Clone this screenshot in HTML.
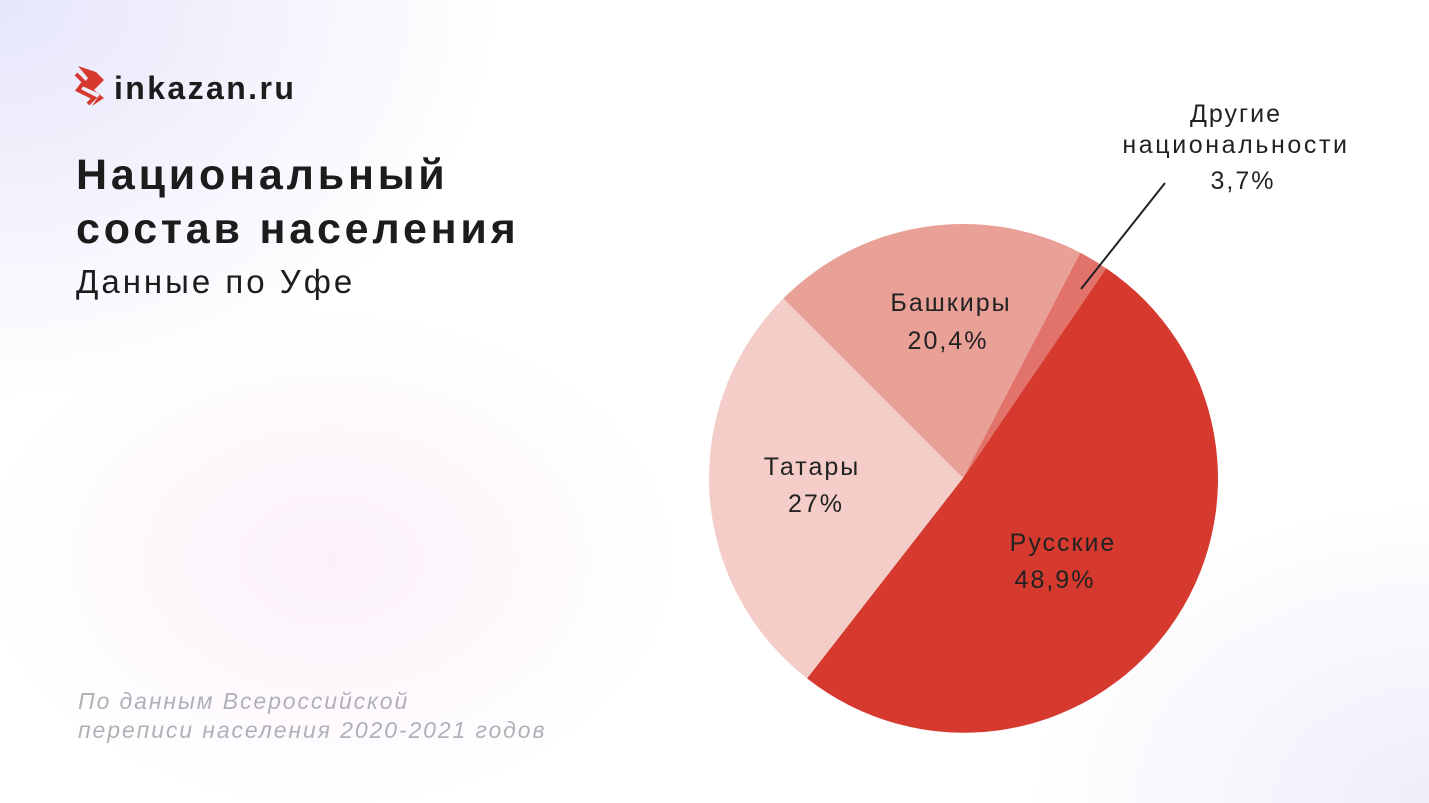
<!DOCTYPE html>
<html><head><meta charset="utf-8"><style>
body{margin:0;width:1429px;height:803px;overflow:hidden;font-family:"Liberation Sans","DejaVu Sans",sans-serif;
background:radial-gradient(ellipse 500px 400px at 0px 0px,#e6e6fb 0%,rgba(255,255,255,0) 100%),radial-gradient(ellipse 350px 250px at 330px 560px,#fcf1fa 0%,rgba(255,255,255,0) 100%),radial-gradient(ellipse 400px 300px at 1429px 803px,#eeeefb 0%,rgba(255,255,255,0) 100%),#fff;position:relative}
.t{position:absolute;color:#1c1c1c}
</style></head><body>
<svg style="position:absolute;left:74px;top:64px" width="34" height="44" viewBox="0 0 34 44">
<path d="M4 2 L14 14 L8 22 L26 30 L18 42 L30 34 L20 26 L30 16 L22 8 Z" fill="#d63a2f"/>
<path d="M2 10 L10 18 L4 26 L20 34 L14 40" stroke="#d63a2f" stroke-width="4" fill="none"/>
</svg>
<div class="t" style="left:114px;top:70px;font-size:32px;font-weight:bold;letter-spacing:2.4px">inkazan.ru</div>
<div class="t" style="left:76px;top:148px;font-size:43px;font-weight:bold;line-height:54px;letter-spacing:3.8px">Национальный<br>состав населения</div>
<div class="t" style="left:76px;top:263px;font-size:33px;letter-spacing:3px">Данные по Уфе</div>
<div class="t" style="left:78px;top:687px;font-size:23px;font-style:italic;color:#b0b0b8;line-height:29px;letter-spacing:1.9px">По данным Всероссийской<br>переписи населения 2020-2021 годов</div>
<svg style="position:absolute;left:0;top:0" width="1429" height="803">
<path d="M963 478 L1106.1 268.2 A254 254 0 1 1 807 678.4 Z" fill="#d63a2f"/>
<path d="M963 478 L807 678.4 A254 254 0 0 1 783.4 298.4 Z" fill="#f4cdc8"/>
<path d="M963 478 L783.4 298.4 A254 254 0 0 1 1080.3 252.7 Z" fill="#e9a097"/>
<path d="M963 478 L1080.3 252.7 A254 254 0 0 1 1106.1 268.2 Z" fill="#e2736a"/>
<line x1="1165" y1="183" x2="1081" y2="289" stroke="#222" stroke-width="2"/>
<g font-family="Liberation Sans, DejaVu Sans, sans-serif" font-size="25" fill="#222" text-anchor="middle" letter-spacing="2">
<text x="1236" y="122">Другие</text><text x="1236" y="153" letter-spacing="2.6">национальности</text><text x="1243" y="189">3,7%</text>
<text x="951" y="311">Башкиры</text><text x="948" y="349">20,4%</text>
<text x="812" y="475">Татары</text><text x="816" y="512">27%</text>
<text x="1063" y="551">Русские</text><text x="1055" y="588">48,9%</text>
</g>
</svg>
</body></html>
